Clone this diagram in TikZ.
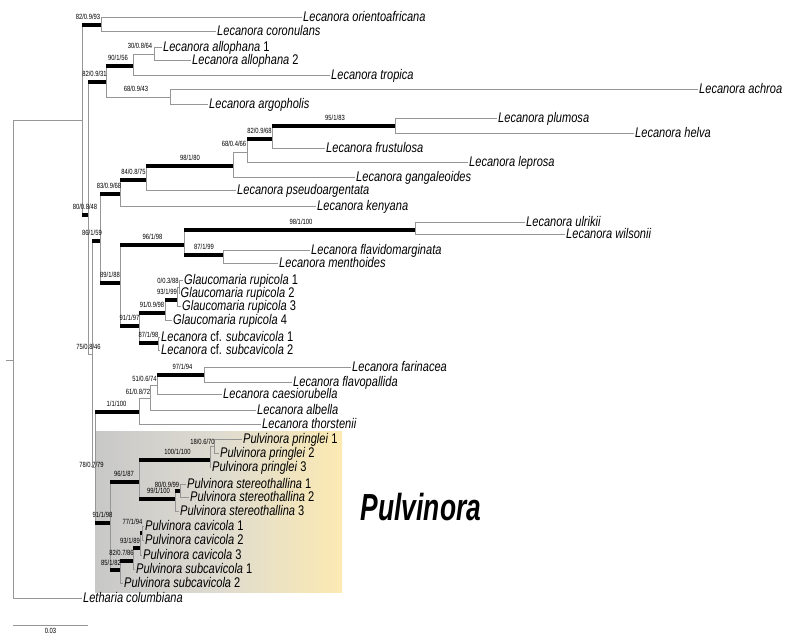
\documentclass[tikz,border=0pt]{standalone}
\usepackage{fontspec}
\usetikzlibrary{calc}
\newfontfamily\leaffont[FakeStretch=0.79]{Liberation Sans}
\newfontfamily\supfont[FakeStretch=0.78]{Liberation Sans}
\newfontfamily\bigfont[FakeStretch=0.70]{Liberation Sans}
\definecolor{brc}{RGB}{150,150,150}
\definecolor{boxl}{RGB}{200,200,200}
\definecolor{boxm}{RGB}{222,219,208}
\definecolor{boxr}{RGB}{252,234,178}
\newcommand\up[1]{\textup{#1}}
\newcommand\tipl[5]{\node[leaf] (#1) at (#3,#4) {#5};\draw[br] (#2 |- #1.west) -- (#1.west);}
\newcommand\tbr[2]{\draw[bar] (#1 |- #2) -- (#2);}
\newcommand\nbr[2]{\draw[br] (#1 |- #2) -- (#2);}
\newcommand\vln[3]{\draw[br] (#1 |- #2) -- (#1 |- #3);}
\newcommand\slab[4]{\node[sup] (#1) at (#2,#3) {#4};}
\tikzset{
  br/.style={draw=brc, line width=0.9pt},
  bar/.style={draw=black, line width=4.5pt},
  leaf/.style={anchor=west, inner sep=1pt, font={\leaffont\fontsize{14}{14}\selectfont\itshape}, text height=10pt, text depth=2pt},
  sup/.style={anchor=south, inner sep=0.5pt, font={\supfont\fontsize{7.5}{8}\selectfont}, text height=5.5pt, text depth=0pt},
}
\begin{document}
\begin{tikzpicture}[x=1pt,y=-1pt]
\useasboundingbox (0,0) rectangle (790,641);
% clade box
\shade[left color=boxl, right color=boxr, middle color=boxm] (95,431) rectangle (342,592);
\node[font={\bigfont\fontsize{37.7}{40}\selectfont\bfseries\itshape}] (title) at (421,507) {Pulvinora};
% internal nodes
\coordinate (n0) at (13,360);
\coordinate (stub) at (6,360);
\coordinate (nA) at (82,120);
\coordinate (nX) at (101,25);
\coordinate (nB) at (88,215);
\coordinate (nC) at (106,82);
\coordinate (nU) at (133,66);
\coordinate (nW) at (154,54);
\coordinate (nV) at (170,97);
\coordinate (nD) at (92,354);
\coordinate (nP86) at (100,241);
\coordinate (nF) at (120,194);
\coordinate (nG) at (146,180);
\coordinate (nH) at (233,166);
\coordinate (nI) at (247,152);
\coordinate (nJ) at (272,139);
\coordinate (nK) at (395,126);
\coordinate (nL) at (120,283);
\coordinate (nM) at (184,245);
\coordinate (nN) at (415,230);
\coordinate (nO) at (223,255);
\coordinate (nP) at (139,326);
\coordinate (nQ) at (165,313);
\coordinate (nS) at (177,300);
\coordinate (nT) at (179,287);
\coordinate (nR) at (158,343);
\coordinate (nE) at (95,467);
\coordinate (nY) at (139,412);
\coordinate (nZ) at (150,398);
\coordinate (nAA) at (157,385);
\coordinate (nBB) at (204,375);
\coordinate (nPP) at (110,523);
\coordinate (nQ96) at (139,482);
\coordinate (nR100) at (210,460);
\coordinate (nS18) at (214,446);
\coordinate (nT99) at (175,499);
\coordinate (nU80) at (180,491);
\coordinate (nV85) at (120,570);
\coordinate (nW82) at (133,561);
\coordinate (nX93) at (140,548);
\coordinate (nY77) at (142,533);
% leaves
\tipl{lOri}{nX}{302}{17}{Lecanora orientoafricana}
\tipl{lCor}{nX}{216}{31}{Lecanora coronulans}
\tipl{lAll1}{nW}{162}{47}{Lecanora allophana \up{1}}
\tipl{lAll2}{nW}{191}{60}{Lecanora allophana \up{2}}
\tipl{lTro}{nU}{330}{75}{Lecanora tropica}
\tipl{lAch}{nV}{698}{89}{Lecanora achroa}
\tipl{lArg}{nV}{208}{104}{Lecanora argopholis}
\tipl{lPlu}{nK}{497}{118}{Lecanora plumosa}
\tipl{lHel}{nK}{634}{133}{Lecanora helva}
\tipl{lFru}{nJ}{325}{148}{Lecanora frustulosa}
\tipl{lLep}{nI}{468}{162}{Lecanora leprosa}
\tipl{lGan}{nH}{355}{177}{Lecanora gangaleoides}
\tipl{lPse}{nG}{236}{190}{Lecanora pseudoargentata}
\tipl{lKen}{nF}{316}{206}{Lecanora kenyana}
\tipl{lUlr}{nN}{525}{222}{Lecanora ulrikii}
\tipl{lWil}{nN}{565}{234}{Lecanora wilsonii}
\tipl{lFla}{nO}{310}{250}{Lecanora flavidomarginata}
\tipl{lMen}{nO}{278}{263}{Lecanora menthoides}
\tipl{lGr1}{nT}{183}{280}{Glaucomaria rupicola \up{1}}
\tipl{lGr2}{nT}{179.5}{293}{Glaucomaria rupicola \up{2}}
\tipl{lGr3}{nS}{181}{306}{Glaucomaria rupicola \up{3}}
\tipl{lGr4}{nQ}{172}{320}{Glaucomaria rupicola \up{4}}
\tipl{lCf1}{nR}{160}{337}{Lecanora \up{cf.} subcavicola \up{1}}
\tipl{lCf2}{nR}{160}{350}{Lecanora \up{cf.} subcavicola \up{2}}
\tipl{lFar}{nBB}{351}{367}{Lecanora farinacea}
\tipl{lFlp}{nBB}{292}{382}{Lecanora flavopallida}
\tipl{lCae}{nAA}{222}{394}{Lecanora caesiorubella}
\tipl{lAlb}{nZ}{256}{410}{Lecanora albella}
\tipl{lTho}{nY}{261}{424}{Lecanora thorstenii}
\tipl{lPp1}{nS18}{242}{439}{Pulvinora pringlei \up{1}}
\tipl{lPp2}{nS18}{219}{453}{Pulvinora pringlei \up{2}}
\tipl{lPp3}{nR100}{211}{467}{Pulvinora pringlei \up{3}}
\tipl{lSt1}{nU80}{186}{484}{Pulvinora stereothallina \up{1}}
\tipl{lSt2}{nU80}{189}{497}{Pulvinora stereothallina \up{2}}
\tipl{lSt3}{nT99}{179}{511}{Pulvinora stereothallina \up{3}}
\tipl{lCa1}{nY77}{144}{526}{Pulvinora cavicola \up{1}}
\tipl{lCa2}{nY77}{144}{540}{Pulvinora cavicola \up{2}}
\tipl{lCa3}{nX93}{142}{555}{Pulvinora cavicola \up{3}}
\tipl{lSc1}{nW82}{135}{569}{Pulvinora subcavicola \up{1}}
\tipl{lSc2}{nV85}{123}{583}{Pulvinora subcavicola \up{2}}
\tipl{lLet}{n0}{82}{598}{Letharia columbiana}
% verticals
\vln{n0}{nA}{lLet.west}
\draw[br] (stub) -- (n0);
\vln{nA}{nX}{nB}
\vln{nX}{lOri.west}{lCor.west}
\vln{nB}{nC}{nD}
\vln{nC}{nU}{nV}
\vln{nU}{nW}{lTro.west}
\vln{nW}{lAll1.west}{lAll2.west}
\vln{nV}{lAch.west}{lArg.west}
\vln{nD}{nP86}{nE}
\vln{nP86}{nF}{nL}
\vln{nF}{nG}{lKen.west}
\vln{nG}{nH}{lPse.west}
\vln{nH}{nI}{lGan.west}
\vln{nI}{nJ}{lLep.west}
\vln{nJ}{nK}{lFru.west}
\vln{nK}{lPlu.west}{lHel.west}
\vln{nL}{nM}{nP}
\vln{nM}{nN}{nO}
\vln{nN}{lUlr.west}{lWil.west}
\vln{nO}{lFla.west}{lMen.west}
\vln{nP}{nQ}{nR}
\vln{nQ}{nS}{lGr4.west}
\vln{nS}{nT}{lGr3.west}
\vln{nT}{lGr1.west}{lGr2.west}
\vln{nR}{lCf1.west}{lCf2.west}
\vln{nE}{nY}{nPP}
\vln{nY}{nZ}{lTho.west}
\vln{nZ}{nAA}{lAlb.west}
\vln{nAA}{nBB}{lCae.west}
\vln{nBB}{lFar.west}{lFlp.west}
\vln{nPP}{nQ96}{nV85}
\vln{nQ96}{nR100}{nT99}
\vln{nR100}{nS18}{lPp3.west}
\vln{nS18}{lPp1.west}{lPp2.west}
\vln{nT99}{nU80}{lSt3.west}
\vln{nU80}{lSt1.west}{lSt2.west}
\vln{nV85}{nW82}{lSc2.west}
\vln{nW82}{nX93}{lSc1.west}
\vln{nX93}{nY77}{lCa3.west}
\vln{nY77}{lCa1.west}{lCa2.west}
% thin branches
\nbr{n0}{nA}
\nbr{nU}{nW}
\nbr{nC}{nV}
\nbr{nH}{nI}
\nbr{nB}{nD}
\nbr{nD}{nE}
\nbr{nY}{nZ}
\nbr{nZ}{nAA}
\nbr{nR100}{nS18}
\nbr{nS}{nT}
% thick branches
\tbr{nA}{nX}
\tbr{nA}{nB}
\tbr{nB}{nC}
\tbr{nC}{nU}
\tbr{nD}{nP86}
\tbr{nP86}{nF}
\tbr{nF}{nG}
\tbr{nG}{nH}
\tbr{nI}{nJ}
\tbr{nJ}{nK}
\tbr{nP86}{nL}
\tbr{nL}{nM}
\tbr{nM}{nN}
\tbr{nM}{nO}
\tbr{nL}{nP}
\tbr{nP}{nQ}
\tbr{nQ}{nS}
\tbr{nP}{nR}
\tbr{nE}{nY}
\tbr{nAA}{nBB}
\tbr{nE}{nPP}
\tbr{nPP}{nQ96}
\tbr{nQ96}{nR100}
\tbr{nQ96}{nT99}
\tbr{nT99}{nU80}
\tbr{nPP}{nV85}
\tbr{nV85}{nW82}
\tbr{nW82}{nX93}
\tbr{nX93}{nY77}
% support labels
\slab{sX}{88}{20}{82/0.9/93}
\slab{sC}{94.5}{77}{82/0.9/31}
\slab{sU}{118}{61}{90/1/56}
\slab{sW}{140}{49}{30/0.8/64}
\slab{sV}{136}{92}{68/0.9/43}
\slab{sB}{85}{210}{80/0.8/48}
\slab{sD}{88.5}{350}{75/0.8/46}
\slab{sP86}{92}{236}{86/1/59}
\slab{sF}{109}{189}{83/0.9/68}
\slab{sG}{133.5}{175}{84/0.8/75}
\slab{sH}{190}{161}{98/1/80}
\slab{sI}{234}{147}{68/0.4/66}
\slab{sJ}{259.5}{134}{82/0.9/68}
\slab{sK}{335}{121}{95/1/83}
\slab{sL}{110}{278}{89/1/88}
\slab{sM}{152.5}{240}{96/1/98}
\slab{sN}{301}{225}{98/1/100}
\slab{sO}{204}{250}{87/1/99}
\slab{sP}{129.5}{321}{91/1/97}
\slab{sQ}{152}{308}{91/0.9/98}
\slab{sS}{167}{295}{93/1/99}
\slab{sT}{168}{284}{0/0.3/88}
\slab{sR}{148.5}{338}{87/1/98}
\slab{sE}{91.5}{468}{78/0.7/79}
\slab{sY}{116.5}{407}{1/1/100}
\slab{sZ}{138}{395}{61/0.8/72}
\slab{sAA}{144.5}{382}{51/0.6/74}
\slab{sBB}{182.5}{370}{97/1/94}
\slab{sPP}{102.5}{518}{91/1/98}
\slab{sQ96}{124}{477}{96/1/87}
\slab{sR100}{177.5}{455}{100/1/100}
\slab{sS18}{202.5}{445}{18/0.6/70}
\slab{sT99}{158.5}{494}{99/1/100}
\slab{sU80}{167}{488}{80/0.9/99}
\slab{sV85}{111}{566}{85/1/82}
\slab{sW82}{121.5}{556}{82/0.7/86}
\slab{sX93}{130}{544}{93/1/89}
\slab{sY77}{132.5}{525}{77/1/94}
% scale bar
\coordinate (sb1) at (13,625);
\coordinate (sb2) at (88,625);
\draw[br] (sb1) -- (sb2);
\node[sup, anchor=north] (sbl) at ($(sb1)!0.5!(sb2)+(0,2)$) {0.03};
\end{tikzpicture}
\end{document}
